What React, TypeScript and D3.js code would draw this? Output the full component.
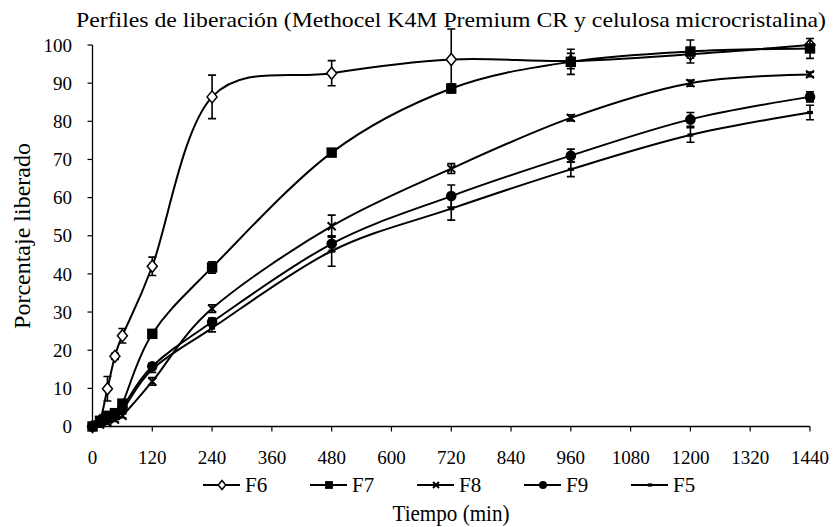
import * as d3 from 'd3';

const times = [0, 15, 30, 45, 60, 120, 240, 480, 720, 960, 1200, 1440];
const xTicks = [0, 120, 240, 360, 480, 600, 720, 840, 960, 1080, 1200, 1320, 1440];
const yTicks = [0, 10, 20, 30, 40, 50, 60, 70, 80, 90, 100];

const f6 = [0, 1.5, 9.9, 18.4, 23.8, 42.0, 86.4, 92.6, 96.2, 95.8, 97.6, 100.0];
const f6Err = [0.3, 0.5, 3.2, 0.8, 1.9, 2.4, 5.7, 3.3, 8.0, 2.0, 1.0, 0.5];
const f7 = [0, 1.5, 2.8, 3.5, 6.0, 24.3, 41.7, 71.8, 88.6, 95.6, 98.3, 99.1];
const f7Err = [0.2, 0.5, 0.6, 0.6, 0.8, 1.0, 1.5, 1.0, 1.2, 3.3, 3.0, 2.6];
const f8 = [0, 0.5, 1.0, 1.8, 2.8, 11.8, 30.9, 52.5, 67.6, 80.9, 90.0, 92.3];
const f8Err = [0.1, 0.3, 0.4, 0.5, 0.5, 1.0, 1.0, 2.9, 1.3, 0.8, 0.8, 0.6];
const f9 = [0, 1.0, 2.0, 3.3, 5.0, 15.8, 27.4, 47.9, 60.4, 71.0, 80.5, 86.4];
const f9Err = [0.2, 0.3, 0.4, 0.5, 0.6, 0.8, 1.0, 2.0, 2.9, 1.7, 1.8, 1.3];
const f5 = [0, 0.8, 1.8, 3.0, 4.2, 15.0, 25.8, 46.0, 57.1, 67.4, 76.4, 82.3];
const f5Err = [0.1, 0.3, 0.4, 0.5, 0.6, 0.8, 1.0, 4.0, 3.0, 1.9, 1.9, 1.9];

const seriesNames = ['F6', 'F7', 'F8', 'F9', 'F5'];
const seriesValues = [f6, f7, f8, f9, f5];
const seriesErrors = [f6Err, f7Err, f8Err, f9Err, f5Err];
const markerTypes = ['diamond', 'square', 'x', 'circle', 'dash'];

const width = 838;
const height = 527;

function Marker({ type, x, y, s = 1 }: { type: string; x: number; y: number; s?: number }) {
  if (type === 'diamond') {
    const w = 5 * s, h = 6 * s;
    return <path d={`M${x},${y - h}L${x + w},${y}L${x},${y + h}L${x - w},${y}Z`} fill="#fff" stroke="#000" strokeWidth={1.5} />;
  }
  if (type === 'square') {
    const h = 5.2 * s;
    return <rect x={x - h} y={y - h} width={2 * h} height={2 * h} fill="#000" />;
  }
  if (type === 'circle') {
    return <circle cx={x} cy={y} r={5.3 * s} fill="#000" />;
  }
  if (type === 'x') {
    const h = 4 * s;
    return <path d={`M${x - h},${y - h}L${x + h},${y + h}M${x - h},${y + h}L${x + h},${y - h}`} stroke="#000" strokeWidth={2} />;
  }
  return <rect x={x - 3 * s} y={y - 1.6} width={6 * s} height={3.2} fill="#000" />;
}

// text drawn at 16px and scaled up, so the serif face is picked
function Label({ x, y, size, anchor = 'start', rotate = 0, length, dy = '0.35em', children }: any) {
  const k = size / 16;
  return (
    <text
      transform={`translate(${x},${y}) rotate(${rotate}) scale(${k})`}
      fontSize={16}
      dy={dy}
      textAnchor={anchor}
      textLength={length ? length / k : undefined}
      lengthAdjust={length ? 'spacingAndGlyphs' : undefined}
      style={{ fontFamily: "'Liberation Serif'" }}
    >
      {children}
    </text>
  );
}

export default function App() {
  const x = d3.scaleLinear().domain([0, 1440]).range([92.5, 810]);
  const y = d3.scaleLinear().domain([0, 100]).range([426.5, 45]);

  const line = d3.line<number>()
    .x((_, i) => x(times[i]))
    .y(d => y(d))
    .curve(d3.curveCatmullRom.alpha(0));

  const legendX = [203, 310, 417, 524, 631];
  const legendY = 485;

  return (
    <svg width={width} height={height} style={{ position: 'absolute', left: 0, top: 0, background: '#fff' }}>
      <Label x={451} y={27} size={22} anchor="middle" dy="0" length={750}>
        Perfiles de liberación (Methocel K4M Premium CR y celulosa microcristalina)
      </Label>

      {/* axes */}
      <line x1={x(0)} x2={x(0)} y1={y(100)} y2={y(0)} stroke="#000" strokeWidth={1.3} />
      <line x1={x(0)} x2={x(1440)} y1={y(0)} y2={y(0)} stroke="#000" strokeWidth={1.3} />
      {yTicks.map(t => (
        <g key={'y' + t}>
          <line x1={x(0) - 5} x2={x(0)} y1={y(t)} y2={y(t)} stroke="#000" strokeWidth={1.2} />
          <Label x={72} y={y(t)} size={19} anchor="end">{t}</Label>
        </g>
      ))}
      {xTicks.map(t => (
        <g key={'x' + t}>
          <line x1={x(t)} x2={x(t)} y1={y(0)} y2={y(0) + 5} stroke="#000" strokeWidth={1.2} />
          <Label x={x(t)} y={457} size={19} anchor="middle">{t}</Label>
        </g>
      ))}

      {/* series */}
      {seriesValues.map((vals, si) => (
        <g key={seriesNames[si]}>
          <path d={line(vals) || ''} fill="none" stroke="#000" strokeWidth={2} />
          {vals.map((v, i) => {
            const e = seriesErrors[si][i];
            const cx = x(times[i]);
            return (
              <g key={i}>
                <path
                  d={`M${cx},${y(v - e)}V${y(v + e)}M${cx - 4},${y(v - e)}H${cx + 4}M${cx - 4},${y(v + e)}H${cx + 4}`}
                  stroke="#000" strokeWidth={1.6} fill="none"
                />
                <Marker type={markerTypes[si]} x={cx} y={y(v)} />
              </g>
            );
          })}
        </g>
      ))}

      {/* legend */}
      {seriesNames.map((name, i) => (
        <g key={'l' + name}>
          <line x1={legendX[i]} x2={legendX[i] + 37} y1={legendY} y2={legendY} stroke="#000" strokeWidth={2} />
          <Marker type={markerTypes[i]} x={legendX[i] + 19} y={legendY} s={0.75} />
          <Label x={legendX[i] + 42} y={legendY} size={21}>{name}</Label>
        </g>
      ))}

      <Label x={451} y={513} size={24} anchor="middle" length={117}>Tiempo (min)</Label>
      <Label x={22} y={236} size={24} anchor="middle" rotate={-90}>Porcentaje liberado</Label>
    </svg>
  );
}
